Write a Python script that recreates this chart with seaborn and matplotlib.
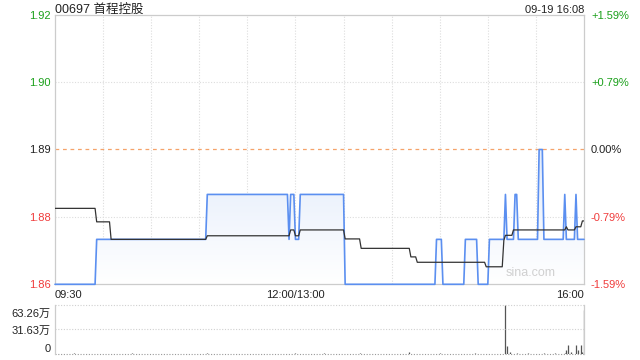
import numpy as np
import pandas as pd
import matplotlib
matplotlib.use("Agg")
import matplotlib.pyplot as plt
import seaborn as sns
from matplotlib.colors import LinearSegmentedColormap
from matplotlib.transforms import ScaledTranslation

title = "00697 首程控股"
stamp = "09-19 16:08"
prev_close = 1.89

# minute-by-minute price as (level, number of minutes) runs, 09:30-12:00 + 13:00-16:00
price_levels = [1.86, 1.87, 1.88, 1.87, 1.88, 1.87, 1.88, 1.86, 1.87, 1.86, 1.87, 1.86,
                1.87, 1.88, 1.87, 1.88, 1.87, 1.89, 1.87, 1.88, 1.87, 1.88, 1.87]
price_runs = [26, 69, 51, 1, 3, 3, 28, 57, 4, 14, 8, 7, 10, 1, 5, 2, 13, 3, 13, 1, 6, 1, 5]

# average price line
avg_levels = [1.8769, 1.8739, 1.8700, 1.8708, 1.8721, 1.8708, 1.8721, 1.8701, 1.8680, 1.8661,
              1.8649, 1.8639, 1.8698, 1.8709, 1.8721, 1.8728, 1.8721, 1.8728, 1.8741]
avg_runs = [26, 9, 60, 52, 3, 3, 28, 10, 31, 4, 43, 11, 1, 5, 33, 1, 5, 4, 2]

# volume (万 shares) at minute index
vol_minutes = [12, 48, 95, 150, 168, 190, 221, 240, 262, 281, 282, 284, 288, 295, 305, 312,
               318, 319, 320, 322, 325, 326, 328, 329, 330]
vol_values = [0.4, 0.5, 0.6, 0.5, 1.2, 0.6, 1.3, 0.5, 0.6, 63.26, 9.5, 1.5, 1.0, 0.8, 0.6, 0.8,
              1.2, 4.0, 11.0, 2.0, 11.0, 4.0, 11.0, 2.5, 56.0]
vol_max = 63.26

y_ticks = [1.86, 1.875, 1.89, 1.905, 1.92]
y_labels = ["1.86", "1.88", "1.89", "1.90", "1.92"]
pct_labels = ["-1.59%", "-0.79%", "0.00%", "+0.79%", "+1.59%"]
tick_colors = ["#f03c3c", "#f03c3c", "#222222", "#1aa01a", "#1aa01a"]
x_ticks = [0, 150, 330]
x_labels = ["09:30", "12:00/13:00", "16:00"]

minutes = np.arange(331)
df = pd.DataFrame({
    "minute": minutes,
    "price": np.repeat(price_levels, price_runs),
    "avg": np.repeat(avg_levels, avg_runs),
})

sns.set_style("white")
plt.rcParams["font.family"] = ["Liberation Sans", "Noto Sans CJK SC", "DejaVu Sans"]

fig = plt.figure(figsize=(6.4, 3.6), dpi=100)
ax = fig.add_axes([55 / 640, 1 - 284.3 / 360, 529 / 640, (284.3 - 14.7) / 360])
axv = fig.add_axes([55 / 640, 1 - 353.5 / 360, 529 / 640, (353.5 - 304.7) / 360])

# gradient fill under the price line
poly = ax.fill_between(df["minute"], df["price"], 1.86, color="none", lw=0)
cmap = LinearSegmentedColormap.from_list("fill", ["#ffffff", "#e3ecfb"])
grad = np.linspace(1, 0, 256).reshape(-1, 1)
img = ax.imshow(grad, extent=[0, 330, 1.86, 1.89], aspect="auto", cmap=cmap, origin="upper", zorder=1)
img.set_clip_path(poly.get_paths()[0], transform=ax.transData)

# grid
for m in range(30, 330, 30):
    ax.axvline(m, color="#dddddd", lw=0.8, ls=(0, (1, 1.5)), zorder=0)
for yv in [1.875, 1.905]:
    ax.axhline(yv, color="#dddddd", lw=0.8, ls=(0, (1, 1.5)), zorder=0)
ax.axhline(prev_close, color="#f5a36a", lw=0.9, ls=(0, (3, 3)), zorder=2)

sns.lineplot(data=df, x="minute", y="price", ax=ax, color="#5b8ff0", lw=1.2, estimator=None, zorder=4, clip_on=False)
sns.lineplot(data=df, x="minute", y="avg", ax=ax, color="#333333", lw=0.9, estimator=None, zorder=5)

ax.set_xlim(0, 330)
ax.set_ylim(1.86, 1.92)
ax.set_xlabel("")
ax.set_ylabel("")
for s in ax.spines.values():
    s.set_color("#cccccc")
    s.set_linewidth(0.9)

ax.set_yticks(y_ticks)
ax.set_yticklabels(y_labels, fontsize=8)
for lab, c in zip(ax.get_yticklabels(), tick_colors):
    lab.set_color(c)
ax.tick_params(axis="y", length=0, pad=3)
ax.tick_params(axis="x", length=0, pad=4)

ax.set_xticks(x_ticks)
ax.set_xticklabels(x_labels, fontsize=8, color="#222222")
for lab, ha in zip(ax.get_xticklabels(), ["left", "center", "right"]):
    lab.set_ha(ha)

axr = ax.twinx()
axr.set_ylim(1.86, 1.92)
axr.set_yticks(y_ticks)
axr.set_yticklabels(pct_labels, fontsize=8)
for lab, c in zip(axr.get_yticklabels(), tick_colors):
    lab.set_color(c)
axr.tick_params(axis="y", length=0, pad=5)
for s in axr.spines.values():
    s.set_visible(False)

ax.text(297, 1.8625, "sina.com", color="#d0d0d0", fontsize=9, ha="center", va="center", zorder=3)

fig.text(55 / 640, 1 - 10 / 360, title, fontsize=9, color="#222222", ha="left", va="center")
fig.text(584 / 640, 1 - 10 / 360, stamp, fontsize=8, color="#222222", ha="right", va="center")

# volume panel
axv.vlines(vol_minutes, 0, vol_values, color="#555555", lw=0.9)
axv.axhline(vol_max / 2, color="#d0d0d0", lw=0.8, ls=(0, (1, 1.5)))
axv.axhline(vol_max, color="#d0d0d0", lw=0.8, ls=(0, (1, 1.5)), clip_on=False)
axv.axhline(0, color="#999999", lw=0.8, ls=(0, (1, 1.5)), clip_on=False)
axv.set_xlim(0, 330)
axv.set_ylim(0, vol_max)
axv.set_xticks([])
axv.set_yticks([0, vol_max / 2, vol_max])
axv.set_yticklabels(["0", "31.63万", "63.26万"], fontsize=8, color="#222222")
axv.tick_params(axis="y", length=0, pad=3)
offsets = [5, -1, -8]
for lab, dy in zip(axv.get_yticklabels(), offsets):
    lab.set_transform(lab.get_transform() + ScaledTranslation(0, dy / 100, fig.dpi_scale_trans))
for side in ["top", "bottom"]:
    axv.spines[side].set_visible(False)
for side in ["left", "right"]:
    axv.spines[side].set_color("#cccccc")
    axv.spines[side].set_linewidth(0.9)

fig.savefig("out.png", dpi=100)
